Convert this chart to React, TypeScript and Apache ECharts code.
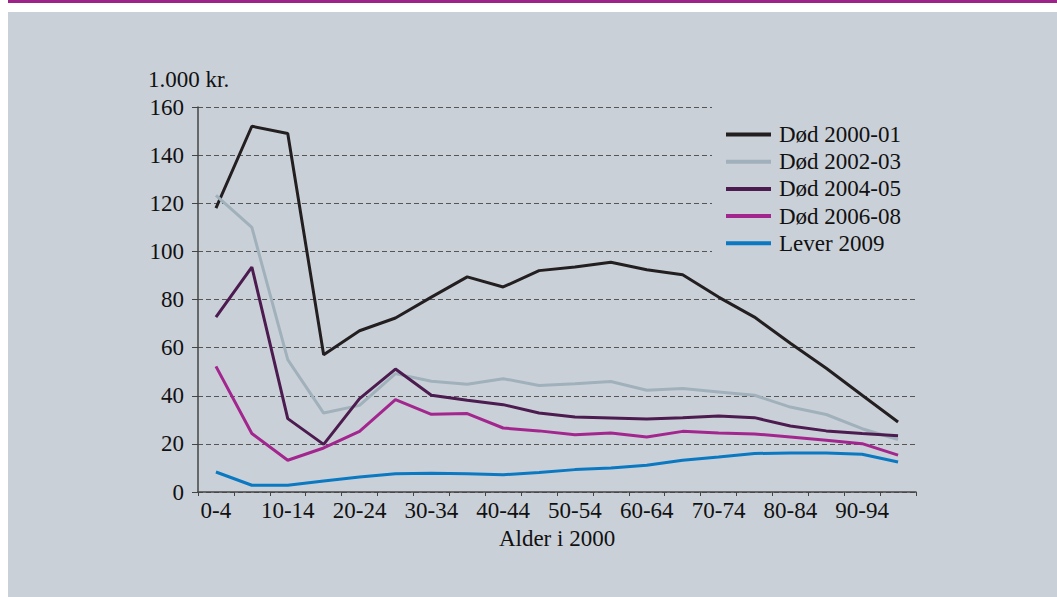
import React, { useEffect, useRef } from "react";
import * as echarts from "echarts";

const categories = [
  "0-4", "5-9", "10-14", "15-19", "20-24", "25-29", "30-34", "35-39", "40-44", "45-49",
  "50-54", "55-59", "60-64", "65-69", "70-74", "75-79", "80-84", "85-89", "90-94", "95-99",
];
const dod2000 = [118, 152, 149, 57, 67, 72.3, 81, 89.4, 85.2, 92, 93.5, 95.5, 92.4, 90.3, 81, 72.7, 61.8, 51.4, 40.2, 29.1];
const dod2002 = [123.3, 110, 55, 32.8, 36, 49.2, 46, 44.8, 47.1, 44.3, 45, 45.9, 42.3, 43, 41.6, 40.2, 35.3, 32.2, 26.3, 21.8];
const dod2004 = [72.7, 93.5, 30.5, 19.8, 38.8, 51.1, 40.2, 38.1, 36.3, 32.8, 31.2, 30.8, 30.3, 30.9, 31.6, 30.9, 27.4, 25.4, 24.3, 23.4];
const dod2006 = [52.2, 24.3, 13.2, 18.3, 25.2, 38.4, 32.3, 32.6, 26.6, 25.4, 23.8, 24.5, 22.9, 25.2, 24.5, 24.1, 22.9, 21.5, 20.1, 15.3];
const lever2009 = [8.3, 2.8, 2.8, 4.6, 6.2, 7.6, 7.8, 7.6, 7.2, 8.1, 9.3, 10, 11.1, 13.2, 14.5, 16, 16.2, 16.2, 15.7, 12.5];

const seriesNames = ["Død 2000-01", "Død 2002-03", "Død 2004-05", "Død 2006-08", "Lever 2009"];
const seriesColors = ["#231f20", "#a0b1bc", "#4c1b4f", "#a3268f", "#0a79c2"];
const seriesData = [dod2000, dod2002, dod2004, dod2006, lever2009];

const FONT = "Liberation Serif";
const BG = "#cad0d8";

export default function App() {
  const ref = useRef<HTMLDivElement>(null);
  useEffect(() => {
    if (!ref.current) return;
    const chart = echarts.init(ref.current, undefined, { renderer: "svg" });
    chart.setOption({
      animation: false,
      backgroundColor: "transparent",
      textStyle: { fontFamily: FONT, color: "#111" },
      grid: { left: 198, right: 141, top: 107, bottom: 105 },
      graphic: [
        {
          type: "text",
          left: 148,
          top: 68,
          style: { text: "1.000 kr.", fontFamily: FONT, fontSize: 23, fill: "#111" },
        },
      ],
      legend: {
        orient: "vertical",
        left: 712,
        top: 101,
        padding: [22, 40, 6, 14],
        backgroundColor: BG,
        itemWidth: 45,
        itemHeight: 4,
        itemGap: 4.2,
        icon: "rect",
        textStyle: { fontFamily: FONT, fontSize: 23, color: "#111", lineHeight: 22, padding: [0, 0, 0, 3] },
        data: seriesNames,
      },
      xAxis: {
        type: "category",
        data: categories,
        boundaryGap: true,
        name: "Alder i 2000",
        nameLocation: "middle",
        nameGap: 34,
        nameTextStyle: { fontFamily: FONT, fontSize: 23, color: "#111" },
        axisLine: { lineStyle: { color: "#444", width: 1.5 } },
        axisTick: { show: true, interval: 0, length: 4, lineStyle: { color: "#444" } },
        axisLabel: { interval: 1, margin: 7, fontFamily: FONT, fontSize: 23, color: "#111" },
        splitLine: { show: false },
      },
      yAxis: {
        type: "value",
        min: 0,
        max: 160,
        interval: 20,
        axisLine: { show: true, lineStyle: { color: "#444", width: 1.5 } },
        axisTick: { show: true, length: 6, lineStyle: { color: "#444" } },
        axisLabel: { margin: 14, fontFamily: FONT, fontSize: 23, color: "#111" },
        splitLine: { show: true, lineStyle: { color: "#555", width: 1, type: [5, 3] } },
      },
      series: seriesData.map((d, i) => ({
        name: seriesNames[i],
        type: "line",
        data: d,
        showSymbol: false,
        symbol: "none",
        lineStyle: { color: seriesColors[i], width: 3 },
        itemStyle: { color: seriesColors[i] },
      })),
    });
    return () => chart.dispose();
  }, []);
  return (
    <div style={{ position: "absolute", left: 0, top: 0, width: 1057, height: 597, background: "#fff", overflow: "hidden" }}>
      <div style={{ position: "absolute", left: 8, top: 0, width: 1049, height: 3, background: "#9c2387" }} />
      <div style={{ position: "absolute", left: 8, top: 12, width: 1049, height: 585, background: BG }} />
      <div ref={ref} style={{ position: "absolute", left: 0, top: 0, width: 1057, height: 597 }} />
    </div>
  );
}
